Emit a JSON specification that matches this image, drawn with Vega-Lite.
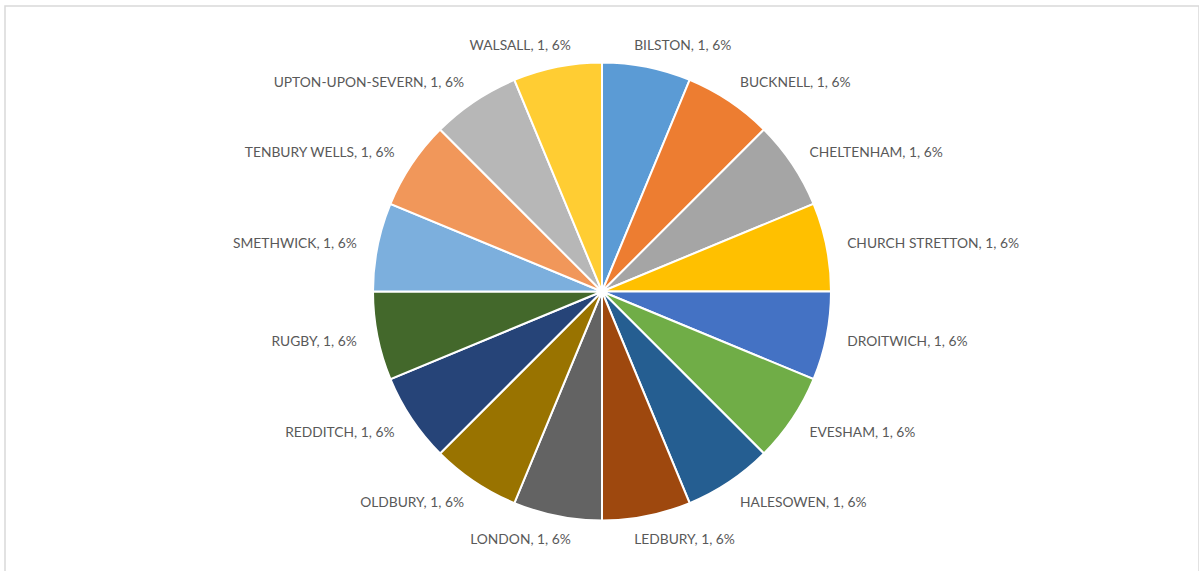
{
  "$schema": "https://vega.github.io/schema/vega-lite/v6.json",
  "width": 1194,
  "height": 571,
  "autosize": {"type": "none"},
  "padding": {"left": 5, "top": 6, "right": 0, "bottom": 0},
  "background": "#ffffff",
  "view": {"stroke": "#d9d9d9", "strokeWidth": 1.5},
  "data": {
    "values": [
      {"idx": 1, "town": "BILSTON", "value": 1, "pct": "6%"},
      {"idx": 2, "town": "BUCKNELL", "value": 1, "pct": "6%"},
      {"idx": 3, "town": "CHELTENHAM", "value": 1, "pct": "6%"},
      {"idx": 4, "town": "CHURCH STRETTON", "value": 1, "pct": "6%"},
      {"idx": 5, "town": "DROITWICH", "value": 1, "pct": "6%"},
      {"idx": 6, "town": "EVESHAM", "value": 1, "pct": "6%"},
      {"idx": 7, "town": "HALESOWEN", "value": 1, "pct": "6%"},
      {"idx": 8, "town": "LEDBURY", "value": 1, "pct": "6%"},
      {"idx": 9, "town": "LONDON", "value": 1, "pct": "6%"},
      {"idx": 10, "town": "OLDBURY", "value": 1, "pct": "6%"},
      {"idx": 11, "town": "REDDITCH", "value": 1, "pct": "6%"},
      {"idx": 12, "town": "RUGBY", "value": 1, "pct": "6%"},
      {"idx": 13, "town": "SMETHWICK", "value": 1, "pct": "6%"},
      {"idx": 14, "town": "TENBURY WELLS", "value": 1, "pct": "6%"},
      {"idx": 15, "town": "UPTON-UPON-SEVERN", "value": 1, "pct": "6%"},
      {"idx": 16, "town": "WALSALL", "value": 1, "pct": "6%"}
    ]
  },
  "encoding": {
    "theta": {"field": "value", "type": "quantitative", "stack": true},
    "order": {"field": "idx", "type": "quantitative"}
  },
  "layer": [
    {
      "mark": {"type": "arc", "outerRadius": 229, "stroke": "#ffffff", "strokeWidth": 2},
      "encoding": {
        "color": {
          "field": "town",
          "type": "nominal",
          "sort": {"field": "idx"},
          "scale": {
            "domain": ["BILSTON", "BUCKNELL", "CHELTENHAM", "CHURCH STRETTON", "DROITWICH", "EVESHAM", "HALESOWEN", "LEDBURY", "LONDON", "OLDBURY", "REDDITCH", "RUGBY", "SMETHWICK", "TENBURY WELLS", "UPTON-UPON-SEVERN", "WALSALL"],
            "range": ["#5B9BD5", "#ED7D31", "#A5A5A5", "#FFC000", "#4472C4", "#70AD47", "#255E91", "#9E480E", "#636363", "#997300", "#264478", "#43682B", "#7CAFDD", "#F1975A", "#B7B7B7", "#FFCD33"]
          },
          "legend": null
        }
      }
    },
    {
      "mark": {
        "type": "text",
        "radius": 252,
        "font": "Lato",
        "fontSize": 13.8,
        "color": "#595959",
        "baseline": "middle",
        "dy": 1.5,
        "align": {"expr": "datum.idx <= 8 ? 'left' : 'right'"},
        "dx": {"expr": "(datum.idx == 1 || datum.idx == 8) ? -17 : ((datum.idx == 9 || datum.idx == 16) ? 18 : (datum.idx <= 8 ? -2 : 2))"}
      },
      "encoding": {
        "text": {"value": {"expr": "datum.town + ', ' + datum.value + ', ' + datum.pct"}}
      }
    }
  ]
}
